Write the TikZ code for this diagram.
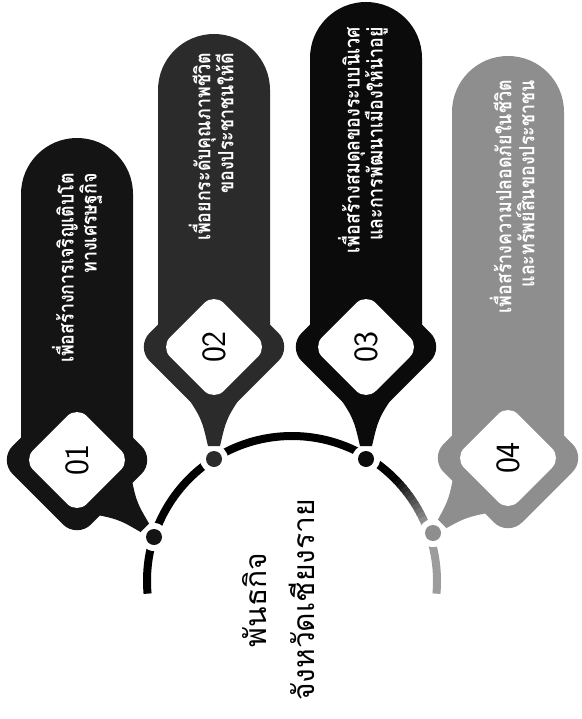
\documentclass[tikz,border=0pt]{standalone}
\usepackage{fontspec}
\setmainfont{Liberation Sans}
\newfontfamily\thaifont[Script=Thai]{Loma}
\newfontfamily\thaicond[Script=Thai,FakeStretch=0.85]{Loma}
\newcommand\tightlines{\lineskiplimit=-30pt\relax}
\usetikzlibrary{calc}
\definecolor{pillA}{HTML}{141414}
\definecolor{pillB}{HTML}{2B2B2B}
\definecolor{pillC}{HTML}{0B0B0B}
\definecolor{pillD}{HTML}{8E8E8E}
\definecolor{arcgray}{HTML}{9C9C9C}
\begin{document}
\begin{tikzpicture}[x=1pt,y=1pt,line cap=butt,
  pilltext/.style={rotate=90,anchor=east,align=right,text=white,inner sep=0pt,font=\thaicond\bfseries\fontsize{21}{23}\selectfont\tightlines},
  numbox/.style={fill=white,rounded corners=14pt,minimum size=76pt,inner sep=0pt,rotate=45},
  bulgebox/.style={rounded corners=20pt,minimum size=111pt,inner sep=0pt,rotate=45},
  numtext/.style={rotate=90,font=\sffamily\fontsize{34}{34}\selectfont},
  hub/.style={circle,fill=white,minimum size=28pt,inner sep=0pt},
  pin/.style={circle,minimum size=16pt,inner sep=0pt}]
\useasboundingbox (0,0) rectangle (581,-719);
\coordinate (ctr) at (292,-581);
\coordinate (d1) at (154,-537);
\coordinate (d2) at (214,-459);
\coordinate (d3) at (366,-459);
\coordinate (d4) at (433,-533);

% the half ring
\draw[line width=8pt] ($(ctr)+(185:145)$) arc[start angle=185,end angle=46,radius=145];
\foreach \k in {0,...,11}{
  \pgfmathsetmacro\p{100-\k*9}
  \draw[line width=8pt,black!\p!arcgray] ($(ctr)+({46-2*\k}:145)$) arc[start angle={46-2*\k},end angle={43.5-2*\k},radius=145];
}
\draw[line width=8pt,arcgray] ($(ctr)+(22:145)$) arc[start angle=22,end angle=-5,radius=145];
\foreach \i in {1,...,4} \node[hub] (hub\i) at (d\i) {};

% pills
\foreach \i/\cx/\top/\ny/\ang/\col in {1/77/138/460/-45/pillA,2/214/34/347/-90/pillB,3/366/2/347/-90/pillC,4/508/56/458/-135/pillD}{
  \coordinate (n\i) at (\cx,-\ny);
  \fill[\col] (\cx-56,-\ny) -- (\cx-56,-\top-56) arc[start angle=180,end angle=0,radius=56] -- (\cx+56,-\ny) -- cycle;
  \node[bulgebox,fill=\col] (bulge\i) at (n\i) {};
  \fill[\col] ($(n\i)+({\ang+40}:52)$) .. controls ($(n\i)+({\ang+10}:72)$) .. ($(d\i)+({\ang+180}:13)+({\ang+90}:6)$)
    -- ($(d\i)+({\ang+180}:13)+({\ang-90}:6)$) .. controls ($(n\i)+({\ang-10}:72)$) .. ($(n\i)+({\ang-40}:52)$) -- cycle;
  \node[numbox] (box\i) at (n\i) {};
  \node[pin,fill=\col] (pin\i) at (d\i) {};
}

\node[numtext] (num1) at (n1) {01};
\node[numtext] (num2) at (n2) {02};
\node[numtext] (num3) at (n3) {03};
\node[numtext] (num4) at (n4) {04};

\node[pilltext] (txt1) at (77,-173) {เพื่อสร้างการเจริญเติบโต\\ทางเศรษฐกิจ};
\node[pilltext] (txt2) at (211,-53) {เพื่อยกระดับคุณภาพชีวิต\\ของประชาชนให้ดี};
\node[pilltext] (txt3) at (363,-27) {เพื่อสร้างสมดุลของระบบนิเวศ\\และการพัฒนาเมืองให้น่าอยู่};
\node[pilltext] (txt4) at (512,-80) {เพื่อสร้างความปลอดภัยในชีวิต\\และทรัพย์สินของประชาชน};

\node[rotate=90,align=center,font=\thaifont\fontsize{30}{48}\selectfont] (title) at (279,-600) {พันธกิจ\\จังหวัดเชียงราย};
\end{tikzpicture}
\end{document}
